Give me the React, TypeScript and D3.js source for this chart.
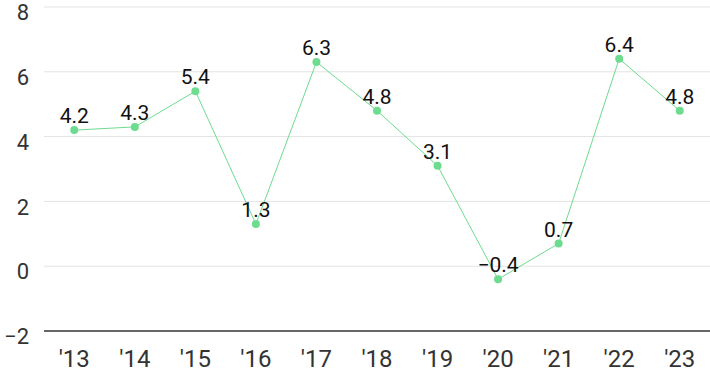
import React from 'react';
import * as d3 from 'd3';

const years = ["'13", "'14", "'15", "'16", "'17", "'18", "'19", "'20", "'21", "'22", "'23"];
const values = [4.2, 4.3, 5.4, 1.3, 6.3, 4.8, 3.1, -0.4, 0.7, 6.4, 4.8];
const yTicks = [-2, 0, 2, 4, 6, 8];

const App = () => {
  const width = 710;
  const height = 371;
  const left = 44;
  const right = 710;
  const top = 7;
  const bottom = 331;

  const x = d3.scaleBand<string>().domain(years).range([left, right]);
  const y = d3.scaleLinear().domain([-2, 8]).range([bottom, top]);
  const cx = (i: number) => (x(years[i]) as number) + x.bandwidth() / 2;

  const line = d3
    .line<number>()
    .x((_, i) => cx(i))
    .y(d => y(d));

  const fmt = (v: number) => (v < 0 ? '\u2212' + Math.abs(v).toFixed(1) : v.toFixed(1));
  const font = 'Roboto, "Noto Sans", sans-serif';

  return (
    <svg
      width={width}
      height={height}
      style={{ position: 'absolute', left: 0, top: 0 }}
      fontFamily={font}
    >
      {yTicks.map(t => (
        <g key={t}>
          {t !== -2 && (
            <line x1={left} x2={right} y1={y(t)} y2={y(t)} stroke="#e3e3e3" strokeWidth={1} />
          )}
          <text x={29} y={y(t)} dy="0.6em" textAnchor="end" fontSize={22} fill="#333">
            {t < 0 ? '\u2212' + Math.abs(t) : t}
          </text>
        </g>
      ))}
      <line x1={left} x2={right} y1={y(-2)} y2={y(-2)} stroke="#333" strokeWidth={1.5} />
      {years.map(yr => (
        <text
          key={yr}
          x={(x(yr) as number) + x.bandwidth() / 2}
          y={367}
          textAnchor="middle"
          fontSize={24}
          fill="#333"
        >
          {yr}
        </text>
      ))}
      <path d={line(values) as string} fill="none" stroke="#6ddc8f" strokeWidth={1} />
      {values.map((v, i) => (
        <g key={i}>
          <circle cx={cx(i)} cy={y(v)} r={4} fill="#6ddc8f" />
          <text x={cx(i)} y={y(v) - 7} textAnchor="middle" fontSize={21} fill="#111">
            {fmt(v)}
          </text>
        </g>
      ))}
    </svg>
  );
};

export default App;
